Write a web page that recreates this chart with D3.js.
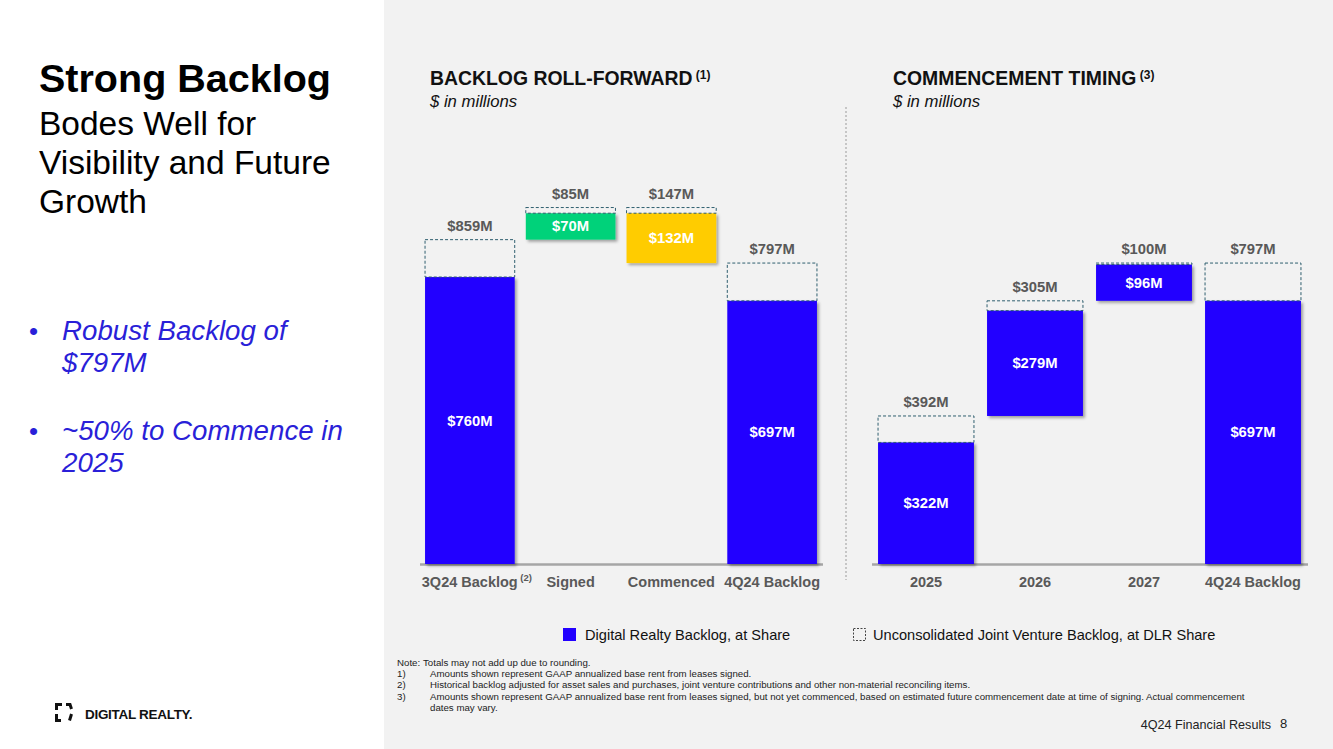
<!DOCTYPE html>
<html><head><meta charset="utf-8">
<script src="https://cdn.jsdelivr.net/npm/d3@7"></script>
<style>
html,body{margin:0;padding:0;background:#fff;}
svg{display:block;font-family:"Liberation Sans",Arial,sans-serif;}
</style></head>
<body><svg id="c" width="1333" height="749"></svg>
<script>
// ---- data ----
const leftCategories = ["3Q24 Backlog", "Signed", "Commenced", "4Q24 Backlog"];
const leftDLR = [760, 70, 132, 697];          // Digital Realty backlog at share
const leftTotal = [859, 85, 147, 797];        // incl. unconsolidated JV
const leftKind = ["total", "up", "down", "total"];
const rightCategories = ["2025", "2026", "2027", "4Q24 Backlog"];
const rightDLR = [322, 279, 96, 697];
const rightTotal = [392, 305, 100, 797];
const rightKind = ["up", "up", "up", "total"];
const legendLabels = ["Digital Realty Backlog, at Share", "Unconsolidated Joint Venture Backlog, at DLR Share"];
const notes = [
  ["Note:", "Totals may not add up due to rounding."],
  ["1)", "Amounts shown represent GAAP annualized base rent from leases signed."],
  ["2)", "Historical backlog adjusted for asset sales and purchases, joint venture contributions and other non-material reconciling items."],
  ["3)", "Amounts shown represent GAAP annualized base rent from leases signed, but not yet commenced, based on estimated future commencement date at time of signing. Actual commencement"],
  ["", "dates may vary."]
];
const bullets = [["Robust Backlog of", "$797M"], ["~50% to Commence in", "2025"]];

const BLUE = "#2200FF", GREEN = "#00D27A", YELLOW = "#FFCC00";
const colorsLeft = [BLUE, GREEN, YELLOW, BLUE];
const colorsRight = [BLUE, BLUE, BLUE, BLUE];

const svg = d3.select("#c");
// backgrounds
svg.append("rect").attr("x", 0).attr("y", 0).attr("width", 1333).attr("height", 749).attr("fill", "#fff");
svg.append("rect").attr("x", 384).attr("y", 0).attr("width", 949).attr("height", 749).attr("fill", "#F2F2F2");

const defs = svg.append("defs");
const f = defs.append("filter").attr("id", "sh").attr("x", "-10%").attr("y", "-10%").attr("width", "130%").attr("height", "130%");
f.append("feDropShadow").attr("dx", 2).attr("dy", 2).attr("stdDeviation", 1.5).attr("flood-color", "#000").attr("flood-opacity", 0.35);

// left title block
const lt = svg.append("g");
lt.append("text").attr("x", 39).attr("y", 92).attr("font-size", 39.5).attr("font-weight", "bold").attr("fill", "#000").text("Strong Backlog");
["Bodes Well for", "Visibility and Future", "Growth"].forEach((t, i) => {
  lt.append("text").attr("x", 39).attr("y", 135 + i * 39).attr("font-size", 33.5).attr("fill", "#000").text(t);
});
bullets.forEach((b, i) => {
  const y0 = 340 + i * 100;
  lt.append("text").attr("x", 29).attr("y", y0).attr("font-size", 26).attr("fill", "#2A1FD8").text("•");
  b.forEach((t, j) => lt.append("text").attr("x", 62).attr("y", y0 + j * 32).attr("font-size", 27.7).attr("font-style", "italic").attr("fill", "#2A1FD8").text(t));
});

// logo
const lg = svg.append("g").attr("stroke", "#111").attr("stroke-width", 3).attr("fill", "none");
lg.append("path").attr("d", "M56.5,710 V704.5 H62");
lg.append("path").attr("d", "M66,704.5 H70 L71.5,709");
lg.append("path").attr("d", "M56.5,714 V720.5 H61");
lg.append("path").attr("d", "M71.5,714 L69.5,720.5");
svg.append("text").attr("x", 85).attr("y", 719).attr("font-size", 13.5).attr("font-weight", "bold").attr("fill", "#111").attr("letter-spacing", -0.3).text("DIGITAL REALTY.");

// ---- charts ----
const y = d3.scaleLinear().domain([0, 1000]).range([564, 186.4]);

function chart(cfg) {
  const g = svg.append("g");
  const x = d3.scaleBand().domain(cfg.cats).range(cfg.range).paddingInner(cfg.pi).paddingOuter(cfg.pi / 2);
  let run = 0;
  const segs = cfg.cats.map((c, i) => {
    const dlr = cfg.dlr[i], tot = cfg.total[i], k = cfg.kind[i];
    let s0, s1, d0, d1;
    if (k === "total") { s0 = 0; s1 = dlr; d0 = dlr; d1 = tot; run = tot; }
    else if (k === "up") { s0 = run; s1 = run + dlr; d0 = s1; d1 = run + tot; run = run + tot; }
    else { d1 = run; d0 = run - (tot - dlr); s1 = d0; s0 = run - tot; run = s0; }
    return { c, i, dlr, tot, s0, s1, d0, d1 };
  });
  // axis
  const ax = g.append("g").attr("transform", `translate(0,${y(0)})`).call(d3.axisBottom(x).tickSize(0).tickSizeOuter(0).tickPadding(13));
  ax.select(".domain").attr("stroke", "#A6A6A6").attr("stroke-width", 2.5);
  ax.selectAll("text").attr("font-size", 14.5).attr("font-weight", "bold").attr("fill", "#595959").attr("font-family", "Liberation Sans, Arial, sans-serif");
  if (cfg.sup) {
    ax.selectAll(".tick text").filter(d => d === cfg.sup.cat).attr("dx", cfg.sup.dx)
      .append("tspan").attr("dy", -6).attr("font-size", 9.5).attr("font-weight", "bold").text(" (2)");
  }
  // solid bars
  g.selectAll(".sb").data(segs).join("rect")
    .attr("x", d => x(d.c)).attr("width", x.bandwidth())
    .attr("y", d => y(d.s1)).attr("height", d => y(d.s0) - y(d.s1))
    .attr("fill", (d, i) => cfg.colors[i]).attr("filter", "url(#sh)");
  // dashed JV
  g.selectAll(".db").data(segs).join("rect")
    .attr("x", d => x(d.c)).attr("width", x.bandwidth())
    .attr("y", d => y(d.d1)).attr("height", d => y(d.d0) - y(d.d1))
    .attr("fill", "none").attr("stroke", "#2F5F6F").attr("stroke-width", 1).attr("stroke-dasharray", "3,2");
  // total labels
  g.selectAll(".tl").data(segs).join("text")
    .attr("x", d => x(d.c) + x.bandwidth() / 2).attr("y", d => y(Math.max(d.d1, d.s1)) - 9)
    .attr("text-anchor", "middle").attr("font-size", 14.8).attr("font-weight", "bold").attr("fill", "#595959")
    .text(d => "$" + d.tot + "M");
  // inner labels
  g.selectAll(".il").data(segs).join("text")
    .attr("x", d => x(d.c) + x.bandwidth() / 2).attr("y", d => (y(d.s0) + y(d.s1)) / 2 + 5)
    .attr("text-anchor", "middle").attr("font-size", 14.8).attr("font-weight", "bold").attr("fill", "#fff")
    .text(d => "$" + d.dlr + "M");
  // titles
  const t = g.append("text").attr("x", cfg.tx).attr("y", 85).attr("font-size", 19.4).attr("font-weight", "bold").attr("fill", "#111").text(cfg.title);
  t.append("tspan").attr("dy", -6).attr("font-size", 12).text(" " + cfg.titleSup);
  g.append("text").attr("x", cfg.tx).attr("y", 107).attr("font-size", 16.7).attr("font-style", "italic").attr("fill", "#111").text("$ in millions");
}

chart({ cats: leftCategories, dlr: leftDLR, total: leftTotal, kind: leftKind, colors: colorsLeft,
  range: [419.5, 822.5], pi: 0.11, title: "BACKLOG ROLL-FORWARD", titleSup: "(1)", tx: 430, sup: { cat: "3Q24 Backlog", dx: 7 } });
chart({ cats: rightCategories, dlr: rightDLR, total: rightTotal, kind: rightKind, colors: colorsRight,
  range: [871.5, 1307.5], pi: 0.12, title: "COMMENCEMENT TIMING", titleSup: "(3)", tx: 893 });

// divider
svg.append("line").attr("x1", 846).attr("x2", 846).attr("y1", 107).attr("y2", 580).attr("stroke", "#9a9a9a").attr("stroke-width", 1).attr("stroke-dasharray", "2,2");

// legend
const leg = svg.append("g").attr("font-size", 14.6).attr("fill", "#111");
leg.append("rect").attr("x", 563).attr("y", 628).attr("width", 13).attr("height", 13).attr("fill", BLUE);
leg.append("text").attr("x", 585).attr("y", 640).text(legendLabels[0]);
leg.append("rect").attr("x", 853.5).attr("y", 628.5).attr("width", 12).attr("height", 12).attr("fill", "none").attr("stroke", "#444").attr("stroke-dasharray", "2,1.5");
leg.append("text").attr("x", 873).attr("y", 640).text(legendLabels[1]);

// notes
const ng = svg.append("g").attr("font-size", 9.7).attr("fill", "#222");
notes.forEach((n, i) => {
  const yy = 666 + i * 11.2;
  ng.append("text").attr("x", 397).attr("y", yy).text(n[0]);
  ng.append("text").attr("x", n[0] === "Note:" ? 423 : 430).attr("y", yy).text(n[1]);
});
svg.append("text").attr("x", 1271).attr("y", 729).attr("text-anchor", "end").attr("font-size", 12.6).attr("fill", "#222").text("4Q24 Financial Results");
svg.append("text").attr("x", 1280).attr("y", 728).attr("font-size", 13).attr("fill", "#222").text("8");
</script></body></html>
